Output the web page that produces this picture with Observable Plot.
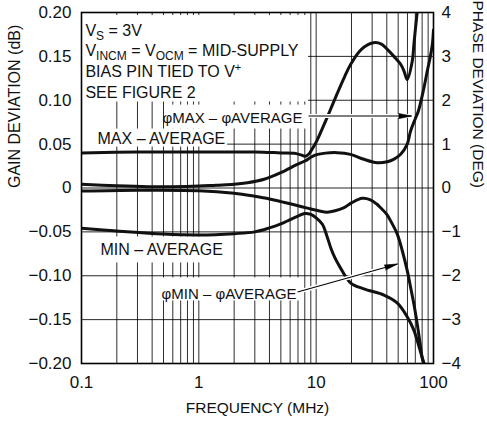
<!DOCTYPE html>
<html><head><meta charset="utf-8">
<script src="https://cdn.jsdelivr.net/npm/d3@7"></script>
<script src="https://cdn.jsdelivr.net/npm/@observablehq/plot@0.6"></script>
<style>body{margin:0;background:#fff}svg{display:block}</style>
</head><body><div id="chart"></div>
<script>
// ---- data ----
// Gain MAX − AVERAGE (dB)
const gainMaxFreq = [0.1, 0.3, 1, 3, 5, 6.5, 7.3, 8.1, 8.7, 9.2, 10.1, 12, 13.3, 15.2, 17.5, 19.7, 24.3, 30.7, 36, 40.4, 46, 52.5, 56.2, 59.6, 66, 68.1, 72.8, 75];
const gainMax     = [0.040, 0.041, 0.041, 0.041, 0.040, 0.0395, 0.038, 0.0362, 0.039, 0.044, 0.0535, 0.076, 0.090, 0.1085, 0.127, 0.141, 0.158, 0.1655, 0.164, 0.158, 0.150, 0.141, 0.133, 0.1236, 0.145, 0.164, 0.2016, 0.215];
// Gain MIN − AVERAGE (dB)
const gainMinFreq = [0.1, 0.2, 0.5, 1, 2, 3, 4, 5, 6, 7, 8, 9, 10, 11.3, 12.3, 13.3, 14.5, 16.1, 19.6, 25.5, 37.8, 49, 59.8, 68, 75, 80, 83];
const gainMin     = [-0.046, -0.049, -0.0525, -0.0535, -0.052, -0.050, -0.0455, -0.041, -0.036, -0.032, -0.029, -0.030, -0.034, -0.0413, -0.054, -0.068, -0.080, -0.091, -0.108, -0.115, -0.122, -0.131, -0.147, -0.162, -0.180, -0.193, -0.200];
// Phase φMAX − φAVERAGE (deg)
const phaseMaxFreq = [0.1, 0.2, 0.37, 0.6, 1, 1.4, 2, 2.6, 3.6, 5, 6.9, 8.1, 9, 10.1, 12, 15.1, 19.6, 25.5, 33.2, 40.4, 45.7, 52.5, 59.6, 63.8, 70, 74.2, 81.8, 88.6, 94, 97.7, 100];
const phaseMax     = [0.085, 0.05, 0.03, 0.03, 0.045, 0.065, 0.085, 0.12, 0.2, 0.35, 0.54, 0.62, 0.70, 0.76, 0.795, 0.805, 0.767, 0.654, 0.576, 0.60, 0.654, 0.77, 0.995, 1.30, 1.58, 1.75, 2.21, 2.67, 3.0, 3.27, 3.6];
// Phase φMIN − φAVERAGE (deg)
const phaseMinFreq = [0.1, 0.3, 1, 2, 3, 4, 5, 6, 7.4, 9, 10.5, 12.4, 14.5, 17.1, 20, 24.7, 29, 33, 35.4, 40, 43.1, 49.1, 54.2, 59.8, 63.9, 68.1, 72, 76, 80.3, 83];
const phaseMin     = [-0.07, -0.05, -0.06, -0.12, -0.19, -0.25, -0.31, -0.36, -0.42, -0.48, -0.52, -0.55, -0.52, -0.455, -0.34, -0.235, -0.27, -0.37, -0.45, -0.6, -0.75, -1.05, -1.43, -1.89, -2.27, -2.65, -3.03, -3.45, -3.88, -4.0];

// axes
const xTicks = [0.1, 1, 10, 100];
const xTickLabels = ["0.1", "1", "10", "100"];
const gridX = [0.2, 0.3, 0.4, 0.5, 0.6, 0.7, 0.8, 0.9, 1, 2, 3, 4, 5, 6, 7, 8, 9, 10, 20, 30, 40, 50, 60, 70, 80, 90];
const yTicks = [-0.2, -0.15, -0.1, -0.05, 0, 0.05, 0.1, 0.15, 0.2];
const yTickLabels = ["−0.20", "−0.15", "−0.10", "−0.05", "0", "0.05", "0.10", "0.15", "0.20"];
const phaseTickLabels = ["−4", "−3", "−2", "−1", "0", "1", "2", "3", "4"];
const dbPerDeg = 0.05; // right axis: 1 deg ↔ 0.05 dB

// annotations (data coordinates: MHz, dB)
const infoLines = ["V_{S} = 3V", "V_{INCM} = V_{OCM} = MID-SUPPLY", "BIAS PIN TIED TO V^{+}", "SEE FIGURE 2"];
const infoF = 0.108;
const infoV = [0.173, 0.1503, 0.1268, 0.1022];
const gainLabels = [{text: "MAX – AVERAGE", f: 0.137, v: 0.0501}, {text: "MIN – AVERAGE", f: 0.145, v: -0.0763}];
const phaseLabels = [{text: "φMAX – φAVERAGE", f: 7.65, v: 0.0746}, {text: "φMIN – φAVERAGE", f: 6.81, v: -0.1264}];
const arrows = [{f1: 8.6, v1: 0.082, f2: 65, v2: 0.082}, {f1: 6.94, v1: -0.1185, f2: 49.4, v2: -0.0866}];
const masks = [
  {f1: 0.1, f2: 8.6, v1: 0.098, v2: 0.1965},
  {f1: 0.53, f2: 8.6, v1: 0.0672, v2: 0.0945},
  {f1: 0.1, f2: 1.76, v1: 0.0467, v2: 0.0672},
  {f1: 0.1, f2: 1.73, v1: -0.0854, v2: -0.0558},
  {f1: 0.444, f2: 7.36, v1: -0.1287, v2: -0.1025}
];

// ---- build ----
const W = 487, H = 421, mL = 81, mR = 54, mT = 12, mB = 58;
const series = [
  ...gainMaxFreq.map((f, i) => ({s: "gmax", f, v: gainMax[i]})),
  ...gainMinFreq.map((f, i) => ({s: "gmin", f, v: gainMin[i]})),
  ...phaseMaxFreq.map((f, i) => ({s: "pmax", f, v: phaseMax[i] * dbPerDeg})),
  ...phaseMinFreq.map((f, i) => ({s: "pmin", f, v: phaseMin[i] * dbPerDeg}))
];
const xs = Plot.scale({x: {type: "log", domain: [0.1, 100], range: [mL, W - mR]}});
const ys = Plot.scale({y: {domain: [-0.2, 0.2], range: [H - mB, mT]}});
const heads = arrows.map(a => {
  const dx = xs.apply(a.f2) - xs.apply(a.f1), dy = ys.apply(a.v2) - ys.apply(a.v1);
  return {...a, angle: Math.atan2(dx, -dy) * 180 / Math.PI};
});

const font = "'Liberation Sans', Arial, Helvetica, sans-serif";
const plot = Plot.plot({
  width: W, height: H,
  marginLeft: mL, marginRight: mR, marginTop: mT, marginBottom: mB,
  style: {fontFamily: font, background: "white", color: "#111"},
  x: {type: "log", domain: [0.1, 100]},
  y: {domain: [-0.2, 0.2]},
  marks: [
    Plot.ruleX(gridX, {stroke: "#000", strokeOpacity: 0.82, strokeWidth: 1}),
    Plot.ruleY(yTicks, {stroke: "#000", strokeOpacity: 0.85, strokeWidth: 1}),
    Plot.rect(masks, {x1: "f1", x2: "f2", y1: "v1", y2: "v2", fill: "white"}),
    Plot.line(series, {x: "f", y: "v", z: "s", stroke: "#111", strokeWidth: 3, curve: "catmull-rom", clip: true}),
    Plot.link(arrows, {x1: "f1", y1: "v1", x2: "f2", y2: "v2", stroke: "white", strokeWidth: 4}),
    Plot.link(arrows, {x1: "f1", y1: "v1", x2: "f2", y2: "v2", stroke: "#000", strokeWidth: 1.1}),
    Plot.vector(heads, {x: "f2", y: "v2", rotate: "angle", length: 13, r: 2.6, shape: "spike", anchor: "end", fill: "#000", stroke: "#000", strokeWidth: 0.6}),
    Plot.text(infoLines, {x: () => infoF, y: (d, i) => infoV[i], text: d => d, textAnchor: "start", lineAnchor: "bottom", fontSize: 16}),
    Plot.text(gainLabels, {x: "f", y: "v", text: "text", textAnchor: "start", lineAnchor: "bottom", fontSize: 16}),
    Plot.text(phaseLabels, {x: "f", y: "v", text: "text", textAnchor: "end", lineAnchor: "bottom", fontSize: 15}),
    Plot.frame({stroke: "#000", strokeWidth: 1.6}),
    Plot.axisX(xTicks, {anchor: "bottom", tickSize: 0, tickPadding: 12, fontSize: 17, tickFormat: d => xTickLabels[xTicks.indexOf(d)], label: null}),
    Plot.axisY(yTicks, {anchor: "left", tickSize: 0, tickPadding: 10, fontSize: 17, tickFormat: d => yTickLabels[yTicks.indexOf(d)], label: null}),
    Plot.axisY(yTicks, {anchor: "right", tickSize: 0, tickPadding: 8, fontSize: 17, tickFormat: d => phaseTickLabels[yTicks.indexOf(d)], label: null}),
    Plot.text(["GAIN DEVIATION (dB)"], {frameAnchor: "left", dx: -67, rotate: -90, fontSize: 16}),
    Plot.text(["PHASE DEVIATION (DEG)"], {frameAnchor: "right", dx: 44, rotate: 90, fontSize: 15.5}),
    Plot.text(["FREQUENCY (MHz)"], {frameAnchor: "bottom", dy: 49, lineAnchor: "bottom", fontSize: 15.5})
  ]
});

// subscripts / superscripts as real tspans
plot.querySelectorAll("text").forEach(t => {
  const s = t.textContent;
  if (!/[_^]\{/.test(s)) return;
  while (t.firstChild) t.removeChild(t.firstChild);
  const re = /([_^])\{([^}]*)\}|([^_^]+)/g;
  let m, shift = 0;
  while ((m = re.exec(s))) {
    const ts = document.createElementNS("http://www.w3.org/2000/svg", "tspan");
    if (m[3] !== undefined) {
      ts.textContent = m[3];
      if (shift) ts.setAttribute("dy", -shift);
      shift = 0;
    } else {
      const d = m[1] === "_" ? 4 : -6;
      ts.textContent = m[2];
      ts.setAttribute("font-size", m[1] === "_" ? 12 : 11);
      ts.setAttribute("dy", d - shift);
      shift = d;
    }
    t.appendChild(ts);
  }
});
document.getElementById("chart").appendChild(plot);
</script>
</body></html>
